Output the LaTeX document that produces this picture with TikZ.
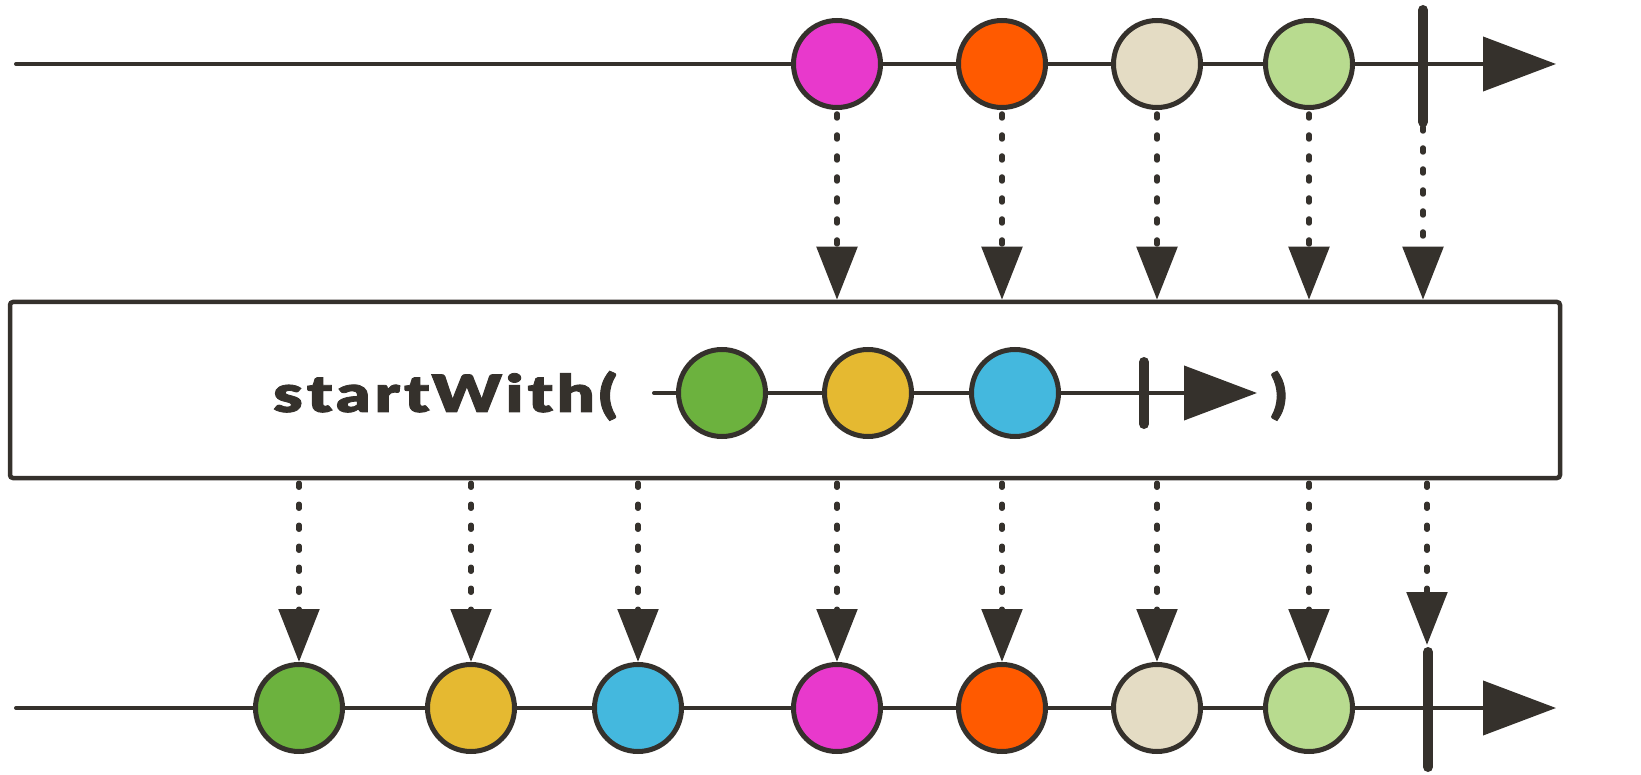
\documentclass[tikz,border=0pt]{standalone}
\usepackage{fontspec}
\usepackage{graphicx}
\usetikzlibrary{arrows.meta}
\newfontfamily\opfont{Lato Black}[FakeBold=1.5, LetterSpace=6]
\definecolor{ink}{HTML}{35312C}
\definecolor{cMag}{HTML}{E839CC}
\definecolor{cOra}{HTML}{FF5A00}
\definecolor{cBei}{HTML}{E4DCC4}
\definecolor{cLgr}{HTML}{B8DB8F}
\definecolor{cGrn}{HTML}{6CB23E}
\definecolor{cYel}{HTML}{E5B931}
\definecolor{cBlu}{HTML}{44B8DE}
\tikzset{
  timeline/.style={draw=ink, line width=4pt, line cap=round, -{Triangle[length=73pt,width=54pt]}},
  ball/.style={circle, draw=ink, line width=5pt, minimum size=87pt, inner sep=0pt},
  termbar/.style={draw=ink, line width=10pt, line cap=round},
  flow/.style={draw=ink, line width=5.5pt, line cap=round, dash pattern=on 4pt off 17pt, -{Triangle[length=53pt,width=40pt]}},
  opbox/.style={draw=ink, line width=4.5pt, rounded corners=3pt, minimum width=1550pt, minimum height=176pt, inner sep=0pt},
  optxt/.style={anchor=base west, inner sep=0pt, text=ink}
}
\begin{document}
\begin{tikzpicture}[x=1pt,y=-1pt]
\useasboundingbox (0,0) rectangle (1641,775);
% top timeline
\coordinate (ts) at (16,64);
\coordinate (te) at (1556,64);
\draw[timeline] (ts) -- (te);
\node[ball, fill=cMag] (t1) at (837,64) {};
\node[ball, fill=cOra] (t2) at (1002,64) {};
\node[ball, fill=cBei] (t3) at (1157,64) {};
\node[ball, fill=cLgr] (t4) at (1309,64) {};
\coordinate (tbt) at (1423,10);
\coordinate (tbb) at (1423,122);
\draw[termbar] (tbt) -- (tbb);
% operator box
\node[opbox] (box) at (785,390) {};
\node[optxt] (optext) at (273,412) {\resizebox{344pt}{\height}{\opfont\fontsize{51.6}{52}\selectfont startWith(}};
\coordinate (is) at (654,393);
\coordinate (ie) at (1257,393);
\draw[timeline] (is) -- (ie);
\node[ball, fill=cGrn] (i1) at (722,393) {};
\node[ball, fill=cYel] (i2) at (868,393) {};
\node[ball, fill=cBlu] (i3) at (1015,393) {};
\coordinate (ibt) at (1144,362);
\coordinate (ibb) at (1144,424);
\draw[termbar] (ibt) -- (ibb);
\node[optxt] (cparen) at (1270,412) {\scalebox{1.15}[1]{\opfont\fontsize{51.6}{52}\selectfont )}};
% bottom timeline
\coordinate (bs) at (16,708);
\coordinate (be) at (1556,708);
\draw[timeline] (bs) -- (be);
\node[ball, fill=cGrn] (b1) at (299,708) {};
\node[ball, fill=cYel] (b2) at (471,708) {};
\node[ball, fill=cBlu] (b3) at (638,708) {};
\node[ball, fill=cMag] (b4) at (837,708) {};
\node[ball, fill=cOra] (b5) at (1002,708) {};
\node[ball, fill=cBei] (b6) at (1157,708) {};
\node[ball, fill=cLgr] (b7) at (1309,708) {};
\coordinate (bbt) at (1428,652);
\coordinate (bbb) at (1428,767);
\draw[termbar] (bbt) -- (bbb);
\coordinate (bbarrow) at (1427,645);
% connectors top -> box
\foreach \n in {t1,t2,t3,t4}{
  \draw[flow, shorten <=4pt] (\n.south) -- (\n |- box.north);
}
\draw[flow, shorten <=5pt] (tbb) -- (tbb |- box.north);
% connectors box -> bottom
\foreach \n in {b1,b2,b3,b4,b5,b6,b7}{
  \draw[flow, shorten <=3pt] (\n |- box.south) -- (\n.north);
}
\draw[flow, shorten <=3pt] (bbarrow |- box.south) -- (bbarrow);
\end{tikzpicture}
\end{document}
